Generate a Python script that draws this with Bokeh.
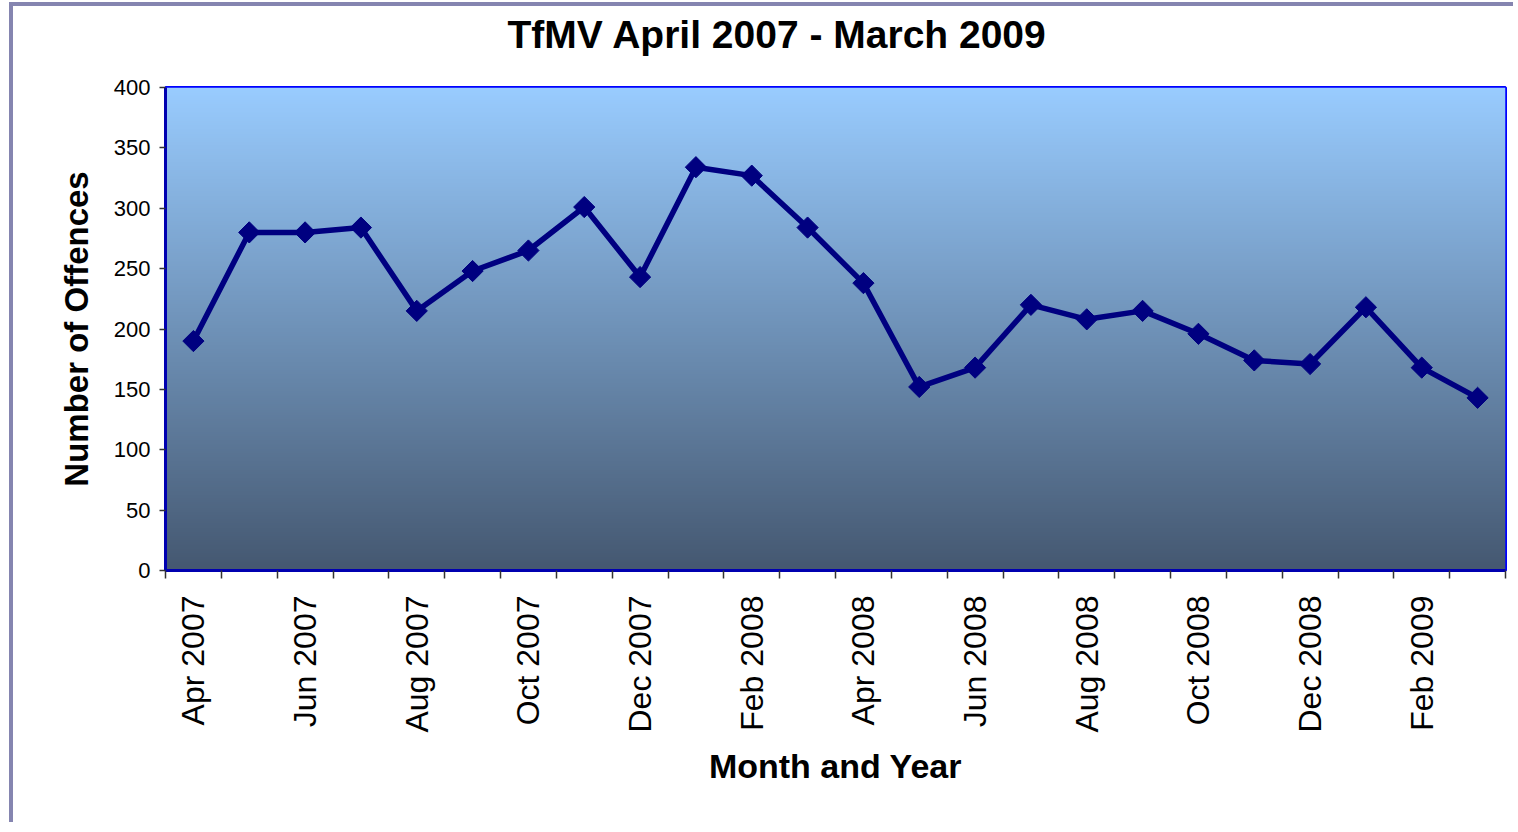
import math
import numpy as np
from bokeh.plotting import figure
from bokeh.models import FixedTicker, Range1d, Title
from bokeh.embed import file_html
from bokeh.resources import INLINE

# ---- data ----
months = ["Apr 2007", "May 2007", "Jun 2007", "Jul 2007", "Aug 2007", "Sep 2007",
          "Oct 2007", "Nov 2007", "Dec 2007", "Jan 2008", "Feb 2008", "Mar 2008",
          "Apr 2008", "May 2008", "Jun 2008", "Jul 2008", "Aug 2008", "Sep 2008",
          "Oct 2008", "Nov 2008", "Dec 2008", "Jan 2009", "Feb 2009", "Mar 2009"]
offences = [190, 280, 280, 284, 215, 248, 265, 301, 243, 334, 327, 284,
            238, 152, 168, 220, 208, 215, 196, 174, 171, 218, 168, 143]
y_ticks = [0, 50, 100, 150, 200, 250, 300, 350, 400]
title_text = "TfMV April 2007 - March 2009"
x_title = "Month and Year"
y_title = "Number of Offences"

# ---- styling ----
FONT = "Liberation Sans"
grad_top = (153, 204, 255)
grad_bottom = (69, 88, 113)
line_col = "#000080"

idx = list(range(len(months)))
x_range = Range1d(-0.5, len(months) - 0.5)
y_range = Range1d(y_ticks[0], y_ticks[-1])

p = figure(width=1504, height=820, x_range=x_range, y_range=y_range,
           output_backend="svg", toolbar_location=None, tools="",
           min_border_left=152, min_border_right=12, min_border_top=81,
           min_border_bottom=256)
p.styles = {"margin-left": "9px", "margin-top": "2px",
            "border-left": "4px solid #8585B0", "border-top": "4px solid #8585B0"}
p.border_fill_color = "white"
p.background_fill_color = "#6f92b8"

# gradient background of the plot area
n = 256
img = np.empty((n, 2), dtype=np.uint32)
view = img.view(dtype=np.uint8).reshape((n, 2, 4))
t = np.linspace(0, 1, n)
for c in range(3):
    view[:, :, c] = (grad_bottom[c] + (grad_top[c] - grad_bottom[c]) * t)[:, None].astype(np.uint8)
view[:, :, 3] = 255
p.image_rgba(image=[img], x=x_range.start, y=y_range.start,
             dw=x_range.end - x_range.start, dh=y_range.end - y_range.start)

# data
p.line(idx, offences, line_color=line_col, line_width=5.5)
p.scatter(idx, offences, marker="square", size=15, angle=math.pi / 4,
          fill_color=line_col, line_color=line_col, line_width=1)

# spacer between title and frame
p.add_layout(Title(text=" ", text_font=FONT, text_font_size="25px", standoff=0), "above")

# title
p.title.text = title_text
p.title.align = "left"
p.title.offset = 342
p.title.text_font = FONT
p.title.text_font_size = "39px"
p.title.text_font_style = "bold"
p.title.text_color = "black"
p.title.standoff = 4

# frame
p.outline_line_color = "#0000FF"
p.outline_line_width = 3

# x axis
p.xaxis.ticker = FixedTicker(ticks=idx[::2],
                             minor_ticks=[i - 0.5 for i in range(len(months) + 1)])
p.xaxis.major_label_overrides = {i: months[i] for i in idx[::2]}
p.xaxis.major_label_orientation = math.pi / 2
p.xaxis.major_tick_out = 0
p.xaxis.major_tick_in = 0
p.xaxis.minor_tick_out = 8
p.xaxis.minor_tick_in = 0
p.xaxis.minor_tick_line_color = "#333333"
p.xaxis.minor_tick_line_width = 1.5
p.xaxis.major_label_text_font = FONT
p.xaxis.major_label_text_font_size = "32px"
p.xaxis.major_label_text_color = "black"
p.xaxis.major_label_standoff = 17
p.xaxis.axis_line_color = "#0000B0"
p.xaxis.axis_line_width = 3
p.xaxis.axis_label = x_title
p.xaxis.axis_label_text_font = FONT
p.xaxis.axis_label_text_font_size = "34px"
p.xaxis.axis_label_text_font_style = "bold"
p.xaxis.axis_label_text_color = "black"
p.xaxis.axis_label_standoff = 11

# y axis
p.yaxis.ticker = FixedTicker(ticks=y_ticks)
p.yaxis.major_tick_out = 6
p.yaxis.major_tick_in = 0
p.yaxis.minor_tick_out = 0
p.yaxis.major_tick_line_color = "#333333"
p.yaxis.major_tick_line_width = 1.5
p.yaxis.major_label_text_font = FONT
p.yaxis.major_label_text_font_size = "22px"
p.yaxis.major_label_text_color = "black"
p.yaxis.major_label_standoff = 9
p.yaxis.axis_line_color = "#0000B0"
p.yaxis.axis_line_width = 3
p.yaxis.axis_label = y_title
p.yaxis.axis_label_text_font = FONT
p.yaxis.axis_label_text_font_size = "33px"
p.yaxis.axis_label_text_font_style = "bold"
p.yaxis.axis_label_text_color = "black"
p.yaxis.axis_label_standoff = 16

# grid
p.xgrid.visible = False
p.ygrid.grid_line_color = "#2a3240"
p.ygrid.grid_line_width = 1.5

open("out.html", "w").write(file_html(p, INLINE))
